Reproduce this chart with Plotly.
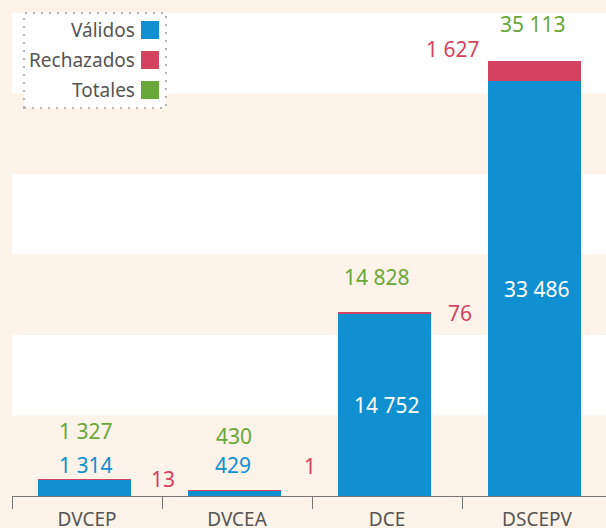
import plotly.graph_objects as go

categories = ["DVCEP", "DVCEA", "DCE", "DSCEPV"]
validos = [1314, 429, 14752, 33486]
rechazados = [13, 1, 76, 1627]
totales = [1327, 430, 14828, 35113]

BLUE = "#1090d0"
RED = "#d44262"
GREEN = "#68a83a"
BEIGE = "#fdf3e8"
GRAY = "#555555"
FONT = "Noto Sans"

fig = go.Figure()
fig.add_bar(x=categories, y=validos, name="Válidos", marker_color=BLUE,
            width=0.62, offset=-0.327, showlegend=False, marker_line_width=0)
fig.add_bar(x=categories, y=rechazados, name="Rechazados", marker_color=RED,
            width=0.62, offset=-0.327, showlegend=False, marker_line_width=0)

# white bands
band = 6500
for k in range(3):
    fig.add_shape(type="rect", xref="paper", yref="y", x0=0, x1=1,
                  y0=band * (2 * k + 1), y1=band * (2 * k + 2),
                  fillcolor="white", line_width=0, layer="below")

# label offsets (px): (xshift, yshift)
green_off = [(-1, 49), (-3, 55), (-10, 35), (-4, 37)]
blue_off = [(-1, 15), (-4, 26), None, None]
red_off = [(76, 1), (73, 25), (73, -1), (-84, 12)]

def fmt(v):
    return f"{v:,}".replace(",", " ")

fs = 21
for i, c in enumerate(categories):
    gx, gy = green_off[i]
    fig.add_annotation(x=c, y=totales[i], text=fmt(totales[i]), showarrow=False,
                       xshift=gx, yshift=gy, font=dict(color=GREEN, size=fs, family=FONT))
    if blue_off[i] is not None:
        bx, by = blue_off[i]
        fig.add_annotation(x=c, y=validos[i], text=fmt(validos[i]), showarrow=False,
                           xshift=bx, yshift=by, font=dict(color=BLUE, size=fs, family=FONT))
    else:
        fig.add_annotation(x=c, y=validos[i] / 2, text=fmt(validos[i]), showarrow=False,
                           font=dict(color="white", size=fs, family=FONT))
    rx, ry = red_off[i]
    fig.add_annotation(x=c, y=totales[i], text=fmt(rechazados[i]), showarrow=False,
                       xshift=rx, yshift=ry, font=dict(color=RED, size=fs, family=FONT))

# custom legend
PX0, PW, PY1, PH = 12, 594, 496, 483
def px(x):
    return (x - PX0) / PW
def py(y):
    return (PY1 - y) / PH

fig.add_shape(type="rect", xref="paper", yref="paper", x0=px(24), x1=px(166),
              y0=py(108), y1=py(13), fillcolor="white",
              line=dict(color="#b5b5b5", width=2, dash="2px,6px"))
legend_items = [("Válidos", BLUE), ("Rechazados", RED), ("Totales", GREEN)]
for j, (lab, col) in enumerate(legend_items):
    yc = 30 + 30 * j
    fig.add_shape(type="rect", xref="paper", yref="paper", x0=px(141), x1=px(159),
                  y0=py(yc + 9), y1=py(yc - 9), fillcolor=col, line_width=0)
    fig.add_annotation(xref="paper", yref="paper", x=px(137), y=py(yc), text=lab,
                       showarrow=False, xanchor="right", yanchor="middle",
                       font=dict(color=GRAY, size=19, family=FONT))

fig.update_layout(
    width=606, height=528,
    margin=dict(l=12, r=0, t=13, b=32),
    paper_bgcolor=BEIGE, plot_bgcolor=BEIGE,
    barmode="stack", bargap=0.38,
    font=dict(family=FONT, color=GRAY),
    xaxis=dict(range=[-0.5, 3.46], showline=True, linecolor="#777777", linewidth=1,
               ticks="outside", tickson="boundaries", ticklen=12, tickcolor="#777777",
               ticklabelstandoff=6,
               tickfont=dict(size=19, color=GRAY, family=FONT), showgrid=False,
               fixedrange=True, automargin=False),
    yaxis=dict(range=[0, 39000], visible=False, showgrid=False, zeroline=False,
               automargin=False, fixedrange=True),
)

fig.write_html("out.html", config={"displayModeBar": False},
               post_script="document.body.style.margin='0';document.body.style.padding='0';")
